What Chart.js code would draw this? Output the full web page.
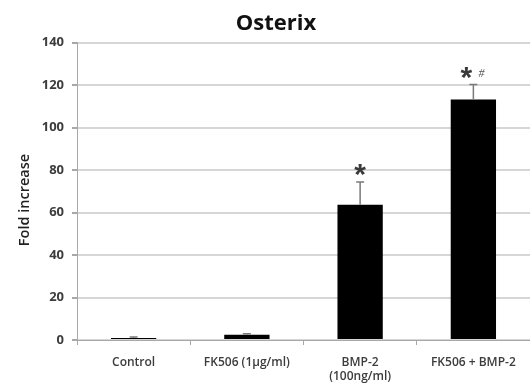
<!DOCTYPE html>
<html>
<head>
<meta charset="utf-8">
<script src="https://cdn.jsdelivr.net/npm/chart.js@4/dist/chart.umd.min.js"></script>
<style>
  html, body { margin: 0; padding: 0; background: #fff; }
  #wrap { width: 530px; height: 385px; }
</style>
</head>
<body>
<div id="wrap"><canvas id="c" width="530" height="385"></canvas></div>
<script>
// Osterix expression, fold increase over control
const categories = ['Control', 'FK506 (1µg/ml)', ['BMP-2', '(100ng/ml)'], 'FK506 + BMP-2'];
const foldIncrease = [1, 2.5, 63.7, 113.2];
const errorUp = [0.4, 0.4, 10.6, 7.0];
const significance = ['', '', '*', '*'];
const vsBmp = ['', '', '', '#'];
const yTicks = [0, 20, 40, 60, 80, 100, 120, 140];
const chartTitle = 'Osterix';
const yTitle = 'Fold increase';

const FONT = '"Open Sans", "Liberation Sans", sans-serif';

// Error whiskers, significance marks, heading and value-axis title
const extras = {
  id: 'extras',
  afterDatasetsDraw(chart) {
    const ctx = chart.ctx;
    const x = chart.scales.x, y = chart.scales.y;
    ctx.save();
    foldIncrease.forEach((v, i) => {
      const cx = x.getPixelForValue(i);
      const yTop = y.getPixelForValue(v);
      const yErr = y.getPixelForValue(v + errorUp[i]);
      ctx.strokeStyle = '#7a7a7a';
      ctx.lineWidth = 1.5;
      ctx.beginPath();
      ctx.moveTo(cx, yTop);
      ctx.lineTo(cx, yErr);
      ctx.moveTo(cx - 4, yErr);
      ctx.lineTo(cx + 4, yErr);
      ctx.stroke();
      if (significance[i]) {
        ctx.fillStyle = '#3a3a3a';
        ctx.font = 'bold 30px "Liberation Sans", sans-serif';
        ctx.textAlign = 'center';
        ctx.textBaseline = 'alphabetic';
        const sx = vsBmp[i] ? cx - 7 : cx;
        ctx.fillText(significance[i], sx, yErr + 2);
      }
      if (vsBmp[i]) {
        ctx.fillStyle = '#555';
        ctx.font = 'italic 12px "Liberation Serif", serif';
        ctx.textAlign = 'center';
        ctx.textBaseline = 'middle';
        ctx.fillText(vsBmp[i], cx + 8, yErr - 11);
      }
    });

    // heading
    ctx.fillStyle = '#111';
    ctx.font = 'bold 22px ' + FONT;
    ctx.textAlign = 'center';
    ctx.textBaseline = 'middle';
    ctx.fillText(chartTitle, 276, 24);

    // axis title, rotated
    ctx.translate(25, 200);
    ctx.rotate(-Math.PI / 2);
    ctx.fillStyle = '#222';
    ctx.font = '600 14.5px ' + FONT;
    ctx.fillText(yTitle, 0, 0);
    ctx.restore();
  }
};

new Chart(document.getElementById('c'), {
  type: 'bar',
  data: {
    labels: categories,
    datasets: [{
      data: foldIncrease,
      backgroundColor: '#000',
      borderWidth: 0,
      barPercentage: 0.4,
      categoryPercentage: 1.0
    }]
  },
  options: {
    responsive: false,
    animation: false,
    layout: { padding: { left: 0, right: -5, top: 42.5, bottom: 0 } },
    plugins: {
      legend: { display: false },
      tooltip: { enabled: false },
      title: { display: false }
    },
    scales: {
      x: {
        grid: {
          offset: true,
          drawOnChartArea: false,
          drawTicks: true,
          tickLength: 5,
          color: '#a8a8a8'
        },
        border: { color: '#a8a8a8', width: 1 },
        ticks: {
          color: '#3c3c3c',
          font: { family: FONT, size: 12, weight: '600', lineHeight: 1.2 },
          padding: 10,
          maxRotation: 0,
          autoSkip: false
        },
        afterFit(s) { s.height = 45; }
      },
      y: {
        min: 0,
        max: 140,
        afterBuildTicks(s) { s.ticks = yTicks.map(v => ({ value: v })); },
        grid: {
          color: '#d6d6d6',
          lineWidth: 2,
          tickLength: 5,
          tickColor: '#a8a8a8'
        },
        border: { color: '#a8a8a8', width: 1 },
        ticks: {
          color: '#3c3c3c',
          font: { family: FONT, size: 13, weight: 'bold' },
          padding: 8
        },
        afterFit(s) { s.width = 77; }
      }
    }
  },
  plugins: [extras]
});
</script>
</body>
</html>
